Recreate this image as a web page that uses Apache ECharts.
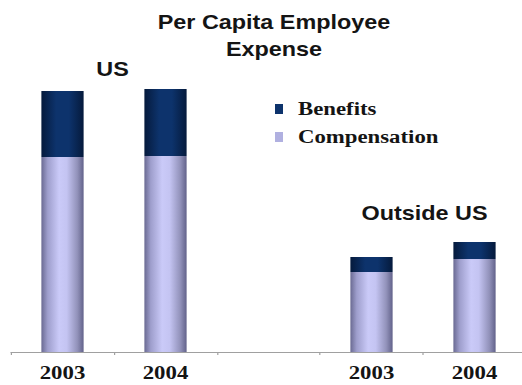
<!DOCTYPE html>
<html>
<head>
<meta charset="utf-8">
<script src="https://cdn.jsdelivr.net/npm/echarts@6/dist/echarts.min.js"></script>
<style>
  html, body { margin: 0; padding: 0; background: #ffffff; overflow: hidden; }
  /* the slide artwork is drawn narrow and widened 1.2x, like the original deck */
  #chart { width: 435px; height: 385px; transform: scaleX(1.2); transform-origin: 0 0; }
</style>
</head>
<body>
<div id="chart"></div>
<script>
// Per capita employee expense, stacked: compensation + benefits (relative units)
const categories   = ['US 2003', 'US 2004', '', 'Outside US 2003', 'Outside US 2004'];
const tickLabels   = ['2003', '2004', '', '2003', '2004'];
const compensation = [195, 196, null, 80, 93];
const benefits     = [66, 67, null, 15, 17];

const SX = 1.2; // horizontal widening factor applied by CSS
const ux = x => x / SX;

const compFill = new echarts.graphic.LinearGradient(0, 0, 1, 0, [
  { offset: 0.00, color: '#6a6a92' },
  { offset: 0.15, color: '#9e9ecc' },
  { offset: 0.42, color: '#cacaf8' },
  { offset: 0.60, color: '#c4c4f2' },
  { offset: 0.85, color: '#9292ba' },
  { offset: 1.00, color: '#62628a' }
]);
const benFill = new echarts.graphic.LinearGradient(0, 0, 1, 0, [
  { offset: 0.00, color: '#051a3c' },
  { offset: 0.35, color: '#0d336c' },
  { offset: 0.65, color: '#0d336c' },
  { offset: 1.00, color: '#051a3c' }
]);

const chart = echarts.init(document.getElementById('chart'), null, { renderer: 'svg' });

chart.setOption({
  animation: false,
  backgroundColor: '#ffffff',
  title: {
    text: 'Per Capita Employee\nExpense',
    left: ux(274),
    top: 9,
    padding: 0,
    textAlign: 'center',
    textStyle: {
      fontFamily: 'Liberation Sans, Arial, sans-serif',
      fontWeight: 'bold',
      fontSize: 19.5,
      lineHeight: 27,
      color: '#141414'
    }
  },
  legend: {
    orient: 'vertical',
    left: ux(275),
    top: 99,
    padding: 0,
    itemGap: 8,
    itemWidth: ux(8),
    itemHeight: 10,
    icon: 'rect',
    data: [
      { name: 'Benefits', itemStyle: { color: '#0d336c' } },
      { name: 'Compensation', itemStyle: { color: '#b0b0e0' } }
    ],
    textStyle: {
      fontFamily: 'Liberation Serif, Times New Roman, serif',
      fontWeight: 'bold',
      fontSize: 19,
      lineHeight: 20,
      color: '#141414',
      padding: [0, 0, 0, 7.5]
    }
  },
  // the last category runs slightly past the right edge
  grid: { left: ux(11), width: ux(515), top: 52, bottom: 33, outerBoundsMode: 'none' },
  xAxis: {
    type: 'category',
    data: categories,
    axisLine: { lineStyle: { color: '#a0a0a0', width: 1 } },
    axisTick: { show: true, length: 3, lineStyle: { color: '#a0a0a0' } },
    axisLabel: {
      interval: 0,
      margin: 11,
      formatter: (v, i) => tickLabels[i],
      fontFamily: 'Liberation Serif, Times New Roman, serif',
      fontWeight: 'bold',
      fontSize: 19,
      color: '#141414'
    }
  },
  yAxis: {
    type: 'value',
    min: 0,
    max: 300,
    show: false,
    splitLine: { show: false }
  },
  series: [
    {
      name: 'Compensation',
      type: 'bar',
      stack: 'expense',
      barWidth: '41%',
      data: compensation,
      itemStyle: { color: compFill }
    },
    {
      name: 'Benefits',
      type: 'bar',
      stack: 'expense',
      barWidth: '41%',
      data: benefits,
      itemStyle: { color: benFill }
    }
  ],
  graphic: [
    {
      type: 'text',
      x: ux(112.5),
      y: 70,
      style: {
        text: 'US',
        align: 'center',
        verticalAlign: 'middle',
        font: 'bold 19.5px "Liberation Sans", Arial, sans-serif',
        fill: '#141414'
      }
    },
    {
      type: 'text',
      x: ux(424.5),
      y: 214,
      style: {
        text: 'Outside US',
        align: 'center',
        verticalAlign: 'middle',
        font: 'bold 19.5px "Liberation Sans", Arial, sans-serif',
        fill: '#141414'
      }
    }
  ]
});
</script>
</body>
</html>
